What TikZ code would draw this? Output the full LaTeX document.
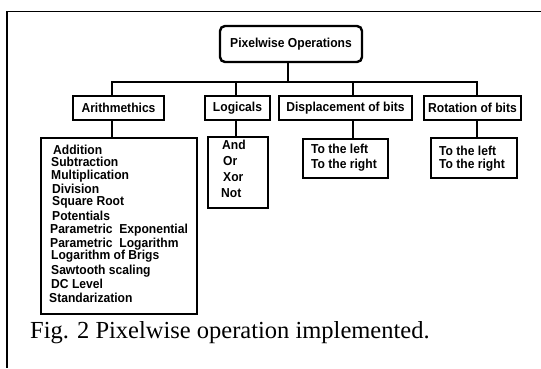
\documentclass[tikz,border=0pt]{standalone}
\usepackage{fontspec}
\setmainfont{Liberation Serif}
\newfontfamily\boxfont[FakeStretch=0.93]{Liberation Sans}
\begin{document}
\begin{tikzpicture}[x=1pt,y=-1pt,
  box/.style={draw, line width=2.4pt, inner sep=0pt, font=\boxfont\bfseries\fontsize{13}{13}\selectfont},
  link/.style={line width=2pt},
  lbl/.style={font=\boxfont\bfseries\fontsize{13}{13}\selectfont, inner sep=0pt, anchor=base west},
  frameline/.style={line width=1.1pt},
  captxt/.style={font=\fontsize{24.5}{24.5}\selectfont, inner sep=0pt, anchor=base west}]
\useasboundingbox (0,0) rectangle (541,368);
% outer frame (only top and left edges visible)
\coordinate (fTR) at (541,11.5);
\coordinate (fTL) at (7,11.5);
\coordinate (fBL) at (7,368);
\draw[frameline] (fTR) -- (fTL) -- (fBL);
% top node
\node[box, rounded corners=5pt, minimum width=142pt, minimum height=36pt] (top) at (291,44) {Pixelwise Operations};
% second level
\node[box, minimum width=91pt, minimum height=24pt] (arith) at (118.5,108) {Arithmethics};
\node[box, minimum width=65pt, minimum height=24pt] (logic) at (237.5,108) {Logicals};
\node[box, minimum width=133pt, minimum height=24pt] (disp) at (345.5,108) {Displacement of bits};
\node[box, minimum width=97pt, minimum height=24pt] (rot) at (472.5,108) {Rotation of bits};
% leaf boxes
\node[box, minimum width=156pt, minimum height=176pt] (arithL) at (119,226) {};
\node[box, minimum width=60pt, minimum height=71pt] (logicL) at (238,172.5) {};
\node[box, minimum width=85pt, minimum height=39pt] (dispL) at (345.5,158.5) {};
\node[box, minimum width=86pt, minimum height=40pt] (rotL) at (474,158) {};
% junctions
\coordinate (jt) at (288,82);
\coordinate (ja) at (112,82);
\coordinate (jl) at (236,82);
\coordinate (jd) at (353,82);
\coordinate (jr) at (477,82);
\draw[link] (jt |- top.south) -- (jt);
\draw[link] (ja |- arith.north) -- (ja) -- (jr) -- (jr |- rot.north);
\draw[link] (jl) -- (jl |- logic.north);
\draw[link] (jd) -- (jd |- disp.north);
\draw[link] (ja |- arith.south) -- (ja |- arithL.north);
\draw[link] (jl |- logic.south) -- (jl |- logicL.north);
\draw[link] (jd |- disp.south) -- (jd |- dispL.north);
\draw[link] (jr |- rot.south) -- (jr |- rotL.north);
% arithmetic items
\node[lbl] (a1) at (53,154) {Addition};
\node[lbl] (a2) at (51,166.5) {Subtraction};
\node[lbl] (a3) at (51,179) {Multiplication};
\node[lbl] (a4) at (52,193) {Division};
\node[lbl] (a5) at (52,205) {Square Root};
\node[lbl] (a6) at (52,220) {Potentials};
\node[lbl] (a7) at (50,233) {Parametric\ \ Exponential};
\node[lbl] (a8) at (50,247) {Parametric\ \ Logarithm};
\node[lbl] (a9) at (51,259) {Logarithm of Brigs};
\node[lbl] (a10) at (51,274) {Sawtooth scaling};
\node[lbl] (a11) at (51,288) {DC Level};
\node[lbl] (a12) at (49,302) {Standarization};
% logical items
\node[lbl] (l1) at (222,149) {And};
\node[lbl] (l2) at (223,165) {Or};
\node[lbl] (l3) at (223,181) {Xor};
\node[lbl] (l4) at (221,197) {Not};
% displacement items
\node[lbl] (d1) at (311,153) {To the left};
\node[lbl] (d2) at (311,168) {To the right};
% rotation items
\node[lbl] (r1) at (439,155) {To the left};
\node[lbl] (r2) at (439,168) {To the right};
% caption
\node[captxt] (cap) at (30,338) {Fig. 2 Pixelwise operation implemented.};
\end{tikzpicture}
\end{document}
